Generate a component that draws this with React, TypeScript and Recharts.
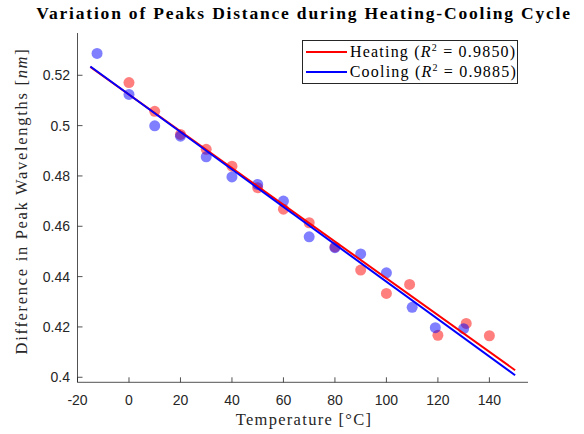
import { ScatterChart, Scatter, XAxis, YAxis, Legend } from "recharts";

// measured points
const heatTemps = [0, 10, 20, 30, 40, 50, 60, 70, 80, 90, 100, 109, 120, 131, 140];
const heatDiff = [0.5171, 0.5057, 0.4965, 0.4906, 0.4839, 0.4753, 0.4668, 0.4614, 0.4518, 0.4426, 0.4333, 0.4369, 0.4167, 0.4214, 0.4165];
const coolTemps = [-12.4, 0, 10, 20, 30, 40, 50, 60, 70, 80, 90, 100, 110, 119, 130];
const coolDiff = [0.5287, 0.5124, 0.4999, 0.4958, 0.4876, 0.4796, 0.4766, 0.47, 0.4558, 0.4515, 0.449, 0.4415, 0.4278, 0.4197, 0.4193];

// fitted lines, end points
const fitTemps = [-15, 150];
const heatFitDiff = [0.5233, 0.4028];
const coolFitDiff = [0.5235, 0.4008];

const xTicks = [-20, 0, 20, 40, 60, 80, 100, 120, 140];
const yTicks = [0.4, 0.42, 0.44, 0.46, 0.48, 0.5, 0.52];

const SERIF = "'Liberation Serif', serif";
const SANS = "'Liberation Sans', sans-serif";
const AXIS = "#262626";
const RED = "#ff0000";
const BLUE = "#0000ff";

const toPoints = (xs: number[], ys: number[]) => xs.map((x, i) => ({ x, y: ys[i] }));

const dot = (color: string) => (p: any) => (
  <circle cx={p.cx} cy={p.cy} r={5.5} fill={color} fillOpacity={0.5} />
);

function R2({ v }: { v: string }) {
  return (
    <>
      (<i>R</i>
      <sup style={{ fontSize: 10, lineHeight: 0, verticalAlign: "6px" }}>2</sup> = {v})
    </>
  );
}

function LegendBox() {
  const rows = [
    { color: RED, name: "Heating", r2: "0.9850" },
    { color: BLUE, name: "Cooling", r2: "0.9885" },
  ];
  return (
    <div
      style={{
        border: `1px solid ${AXIS}`,
        background: "#fff",
        padding: "1px 0",
        fontFamily: SERIF,
        fontSize: 16,
        letterSpacing: 1.2,
        color: "#000",
      }}
    >
      {rows.map((r) => (
        <div key={r.name} style={{ display: "flex", alignItems: "center", height: 20 }}>
          <span style={{ width: 41, height: 2, background: r.color, marginLeft: 3, marginRight: 3 }} />
          <span style={{ whiteSpace: "nowrap" }}>
            {r.name} <R2 v={r.r2} />
          </span>
        </div>
      ))}
    </div>
  );
}

export default function App() {
  return (
    <div style={{ position: "absolute", left: 0, top: 0, width: 584, height: 434, background: "#fff" }}>
      <div
        style={{
          position: "absolute",
          left: 0,
          width: 584,
          top: 3,
          textAlign: "center",
          paddingLeft: 24,
          boxSizing: "border-box",
          fontFamily: SERIF,
          fontWeight: "bold",
          fontSize: 17.5,
          letterSpacing: 1.8,
          color: "#000",
          whiteSpace: "nowrap",
        }}
      >
        Variation of Peaks Distance during Heating-Cooling Cycle
      </div>
      <ScatterChart width={584} height={434} margin={{ top: 33, right: 56, bottom: 0, left: 0 }}>
        <XAxis
          type="number"
          dataKey="x"
          domain={[-20, 155]}
          ticks={xTicks}
          interval={0}
          allowDataOverflow
          height={51.7}
          stroke={AXIS}
          strokeWidth={0.8}
          tickSize={-5}
          tickMargin={17.5}
          tick={{ fill: AXIS, fontSize: 14, fontFamily: SANS }}
        />
        <YAxis
          type="number"
          dataKey="y"
          domain={[0.398, 0.5368]}
          ticks={yTicks}
          interval={0}
          allowDataOverflow
          width={77.5}
          stroke={AXIS}
          strokeWidth={0.8}
          tickSize={-5}
          tickMargin={12.5}
          tickFormatter={(v: number) => String(Number(v.toFixed(2)))}
          tick={{ fill: AXIS, fontSize: 14, fontFamily: SANS }}
        />
        <Legend
          layout="horizontal"
          verticalAlign="middle"
          align="center"
          wrapperStyle={{ left: 302, top: 40, width: 216 }}
          content={() => <LegendBox />}
        />
        <Scatter data={toPoints(heatTemps, heatDiff)} shape={dot(RED)} isAnimationActive={false} />
        <Scatter data={toPoints(coolTemps, coolDiff)} shape={dot(BLUE)} isAnimationActive={false} />
        <Scatter
          data={toPoints(fitTemps, heatFitDiff)}
          line={{ stroke: RED, strokeWidth: 2 }}
          shape={() => <g />}
          isAnimationActive={false}
        />
        <Scatter
          data={toPoints(fitTemps, coolFitDiff)}
          line={{ stroke: BLUE, strokeWidth: 2 }}
          shape={() => <g />}
          isAnimationActive={false}
        />
      </ScatterChart>
      <div
        style={{
          position: "absolute",
          left: 304,
          top: 420,
          transform: "translate(-50%, -50%)",
          fontFamily: SERIF,
          fontSize: 16.5,
          letterSpacing: 1.3,
          color: AXIS,
          whiteSpace: "nowrap",
        }}
      >
        Temperature [°C]
      </div>
      <div
        style={{
          position: "absolute",
          left: 22,
          top: 201,
          transform: "translate(-50%, -50%) rotate(-90deg)",
          fontFamily: SERIF,
          fontSize: 16.5,
          letterSpacing: 1.7,
          color: AXIS,
          whiteSpace: "nowrap",
        }}
      >
        Difference in Peak Wavelengths [<i>nm</i>]
      </div>
    </div>
  );
}
